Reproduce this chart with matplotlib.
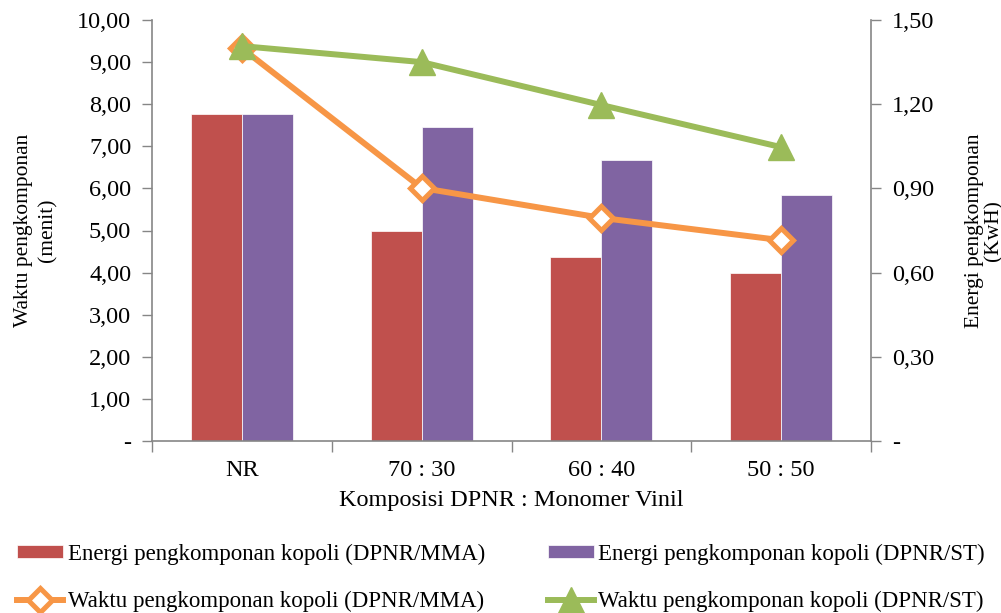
import matplotlib
matplotlib.use("Agg")
import matplotlib.pyplot as plt
import numpy as np
from matplotlib.ticker import FixedLocator, FuncFormatter

plt.rcParams["font.family"] = ["Liberation Serif", "DejaVu Serif"]

# Data
categories = ["NR", "70 : 30", "60 : 40", "50 : 50"]
energi_mma = [1.165, 0.75, 0.655, 0.60]      # KwH
energi_st = [1.165, 1.12, 1.00, 0.875]        # KwH
waktu_mma = [9.33, 6.01, 5.30, 4.77]          # menit
waktu_st = [9.38, 9.00, 7.98, 6.98]           # menit

RED = "#C0504D"
PURPLE = "#8064A2"
ORANGE = "#F79646"
GREEN = "#9BBB59"
SPINE = "#868686"
FS = 17.5


def comma_fmt(val, pos):
    if abs(val) < 1e-9:
        return "-"
    return f"{val:.2f}".replace(".", ",")


fig = plt.figure(figsize=(10.01, 6.13), dpi=100)
ax = fig.add_axes([152 / 1001, 1 - 441 / 613, 719 / 1001, 421 / 613])
ax2 = ax.twinx()

x = np.arange(len(categories))
w = 0.284

# Energy bars on the right axis
b1 = ax2.bar(x - w / 2, energi_mma, w, color=RED, edgecolor="white", linewidth=0.5)
b2 = ax2.bar(x + w / 2, energi_st, w, color=PURPLE, edgecolor="white", linewidth=0.5)

# Time lines on the left axis, drawn above the bars
l1, = ax.plot(x, waktu_mma, color=ORANGE, lw=4.3, marker="D", markersize=12,
              markerfacecolor="white", markeredgecolor=ORANGE, markeredgewidth=3.6)
l2, = ax.plot(x, waktu_st, color=GREEN, lw=4.3, marker="^", markersize=19,
              markerfacecolor=GREEN, markeredgecolor=GREEN)
ax.set_zorder(ax2.get_zorder() + 1)
ax.patch.set_visible(False)

ax.set_xlim(-0.5, 3.5)
ax.set_ylim(0, 10)
ax2.set_ylim(0, 1.5)

ax.yaxis.set_major_locator(FixedLocator(np.arange(0, 10.01, 1)))
ax.yaxis.set_major_formatter(FuncFormatter(comma_fmt))
ax2.yaxis.set_major_locator(FixedLocator(np.arange(0, 1.51, 0.3)))
ax2.yaxis.set_major_formatter(FuncFormatter(comma_fmt))

ax.set_xticks(x)
ax.set_xticklabels(categories)
ax.set_xticks(np.arange(-0.5, 3.6, 1), minor=True)
ax.tick_params(axis="x", which="major", length=0, pad=14, labelsize=FS)
ax.tick_params(axis="x", which="minor", length=8, color=SPINE, width=1)
ax.tick_params(axis="y", length=7, color=SPINE, width=1, pad=8, labelsize=FS)
ax2.tick_params(axis="y", length=7, color=SPINE, width=1, pad=8, labelsize=FS)

for a in (ax, ax2):
    a.spines["top"].set_visible(False)
    for s in a.spines.values():
        s.set_color(SPINE)
        s.set_linewidth(1.2)
ax.spines["right"].set_visible(False)
ax2.spines["left"].set_visible(False)
ax2.spines["bottom"].set_visible(False)

ax.set_xlabel("Komposisi DPNR : Monomer Vinil", fontsize=FS, labelpad=6)
ax.set_ylabel("Waktu pengkomponan\n(menit)", fontsize=15.5, labelpad=14, linespacing=1.35)
ax2.set_ylabel("Energi pengkomponan\n(KwH)", fontsize=15.5, labelpad=22, linespacing=1.0,
               rotation=90)

fig.legend([b1, l1, b2, l2],
           ["Energi pengkomponan kopoli (DPNR/MMA)",
            "Waktu pengkomponan kopoli (DPNR/MMA)",
            "Energi pengkomponan kopoli (DPNR/ST)",
            "Waktu pengkomponan kopoli (DPNR/ST)"],
           ncol=2, loc="lower left", bbox_to_anchor=(0.008, -0.014),
           frameon=False, fontsize=16.5, handlelength=2.0, handleheight=0.5,
           handletextpad=0.2, columnspacing=2.75, labelspacing=1.15, borderaxespad=0)

fig.savefig("out.png", dpi=100)
